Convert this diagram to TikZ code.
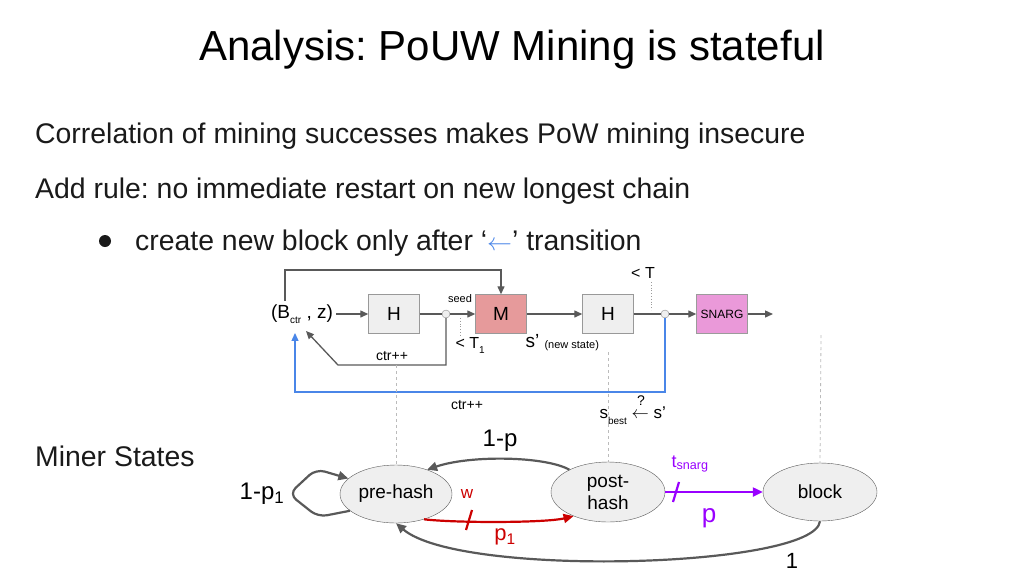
\documentclass[tikz,border=0pt]{standalone}
\usepackage{fontspec}
\setmainfont{Liberation Sans}
\usepackage{amsmath}
\usepackage{xcolor}
\usetikzlibrary{shapes,arrows,arrows.meta,positioning,calc}
\definecolor{lngray}{HTML}{595959}
\definecolor{boxfill}{HTML}{EFEFEF}
\definecolor{boxline}{HTML}{999999}
\definecolor{mfill}{HTML}{E69A9B}
\definecolor{snargfill}{HTML}{EA99D9}
\definecolor{blueln}{HTML}{4A86E8}
\definecolor{stred}{HTML}{CC0000}
\definecolor{stpurple}{HTML}{9900FF}
\definecolor{guidegray}{HTML}{BBBBBB}
\definecolor{bodytext}{HTML}{1A1A1A}
\frenchspacing

\begin{document}
\begin{tikzpicture}[x=1pt, y=-1pt,
    txt/.style={font=\fontsize{28.4}{34}\selectfont, anchor=base west, inner sep=0pt, text=bodytext},
    hbox/.style={rectangle, draw=boxline, fill=boxfill, minimum width=51pt, minimum height=39pt, font=\fontsize{19}{22}\selectfont},
    junc/.style={circle, draw=lngray!70, fill=boxfill, inner sep=0pt, minimum size=8pt},
    state/.style={ellipse, draw=lngray, fill=boxfill, inner sep=0pt, minimum width=112pt, minimum height=58pt, font=\fontsize{19}{22}\selectfont, align=center},
    small/.style={font=\fontsize{11}{13}\selectfont},
    mid/.style={font=\fontsize{16}{19}\selectfont},
    arrow/.style={-{Triangle[length=8pt,width=7pt]}, line width=1.3pt, draw=lngray},
    sarrow/.style={-{Triangle[length=10pt,width=9pt]}, line width=2.2pt, draw=lngray},
    guide/.style={dashed, draw=guidegray, line width=0.8pt}
]
\useasboundingbox (0,0) rectangle (1024,576);

% Title and text
\node[font=\fontsize{42}{48}\selectfont, anchor=base, inner sep=0pt] (title) at (512,60) {Analysis: PoUW Mining is stateful};
\node[txt] (corr) at (35,143) {Correlation of mining successes makes PoW mining insecure};
\node[txt] (rule) at (35,198) {Add rule: no immediate restart on new longest chain};
\fill[bodytext] (105,241) circle (6);
\node[txt] (only) at (135,250) {create new block only after ‘{\color{blueln}$\leftarrow$}’ transition};
\node[txt] (miner) at (35,466) {Miner States};

% Pipeline
\node[font=\fontsize{19}{22}\selectfont] (bz) at (302,314) {(B\raisebox{-5pt}{\fontsize{10}{12}\selectfont ctr} , z)};
\node[hbox] (h1) at (394,314) {H};
\node[junc] (c1) at (446,314) {};
\node[hbox, fill=mfill] (m) at (501,314) {M};
\node[hbox] (h2) at (608,314) {H};
\node[junc] (c2) at (665,314) {};
\node[hbox, fill=snargfill, draw=lngray!60, font=\fontsize{12}{14}\selectfont] (snarg) at (722,314) {SNARG};
\coordinate (out) at (773,314);

\draw[arrow] (bz.east) -- (h1.west);
\draw[line width=1.3pt, lngray] (h1.east) -- (c1.west);
\draw[arrow] (c1.east) -- (m.west);
\draw[arrow] (m.east) -- (h2.west);
\draw[line width=1.3pt, lngray] (h2.east) -- (c2.west);
\draw[arrow] (c2.east) -- (snarg.west);
\draw[arrow] (snarg.east) -- (out);

% loops back to the input
\coordinate (top) at (285,270);
\draw[arrow] (bz.north -| top) -- (top) -| (m.north);
\coordinate (c1low) at (446,365);
\coordinate (c1turn) at (338,365);
\draw[arrow] (c1.south) -- (c1low) -- (c1turn) -- ([xshift=4pt,yshift=-4pt]bz.south);
\coordinate (c2low) at (665,392);
\coordinate (bluein) at (295,392);
\draw[arrow, draw=blueln] (c2.south) -- (c2low) -- (bluein) -- ([xshift=-7pt,yshift=-6pt]bz.south);

% thresholds
\draw[dotted, lngray!60, line width=0.8pt] (460,318) -- (460,335);
\draw[dotted, lngray!60, line width=0.8pt] (651,282) -- (651,310);

% pipeline labels
\node[small] (seed) at (460,299) {seed};
\node[mid, anchor=west] (t1) at (452,345) {< T\raisebox{-5pt}{\fontsize{10}{12}\selectfont 1}};
\node[font=\fontsize{19}{22}\selectfont, anchor=west] (snew) at (522,341) {s’};
\node[small, anchor=west] (newst) at (541,346) {(new state)};
\node[font=\fontsize{14}{16}\selectfont] (ctra) at (392,356) {ctr++};
\node[font=\fontsize{14}{16}\selectfont] (ctrb) at (467,405) {ctr++};
\node[mid] (tt) at (643,273) {< T};
\node[font=\fontsize{17}{20}\selectfont, anchor=west] (sbest) at (596,416) {s\raisebox{-6pt}{\fontsize{10}{12}\selectfont best} $\leftarrow$ s’};
\node[font=\fontsize{14}{16}\selectfont, inner sep=1pt] (qm) at (641,401) {?};

% Miner states
\node[state] (pre) at (396,494) {pre-hash};
\node[state, minimum width=114pt, minimum height=60pt] (post) at (608,492) {post-\\hash};
\node[state, minimum width=114pt] (block) at (820,492) {block};

% guides
\draw[guide] (396,365) -- (pre.north);
\draw[guide] (608,352) -- (post.north);
\draw[guide] (821,335) -- (block.north);

% transitions
\draw[sarrow, rounded corners=9pt] (pre.200) -- (318,517) -- (289,494) -- (316,469) -- (pre.162);
\draw[sarrow] (post.150) .. controls (545,456) and (470,455) .. (pre.38);
\draw[sarrow, draw=stred] (pre.-42) .. controls (455,523) and (545,523) .. (post.-145);
\draw[line width=2.2pt, stred] (466,530) -- (472,510);
\draw[sarrow, draw=stpurple] (post.east) -- (block.west);
\draw[line width=2.2pt, stpurple] (673,502) -- (679,482);
\draw[sarrow] (block.south) .. controls (815,568) and (460,578) .. (pre.south);

% transition labels
\node[font=\fontsize{24}{28}\selectfont] (lself) at (262,494) {1-p\textsubscript{1}};
\node[font=\fontsize{24}{28}\selectfont] (lback) at (500,441) {1-p};
\node[font=\fontsize{17}{20}\selectfont, text=stred] (lw) at (467,494) {w};
\node[font=\fontsize{22}{26}\selectfont, text=stred] (lp1) at (505,537) {p\textsubscript{1}};
\node[font=\fontsize{18}{22}\selectfont, text=stpurple] (lts) at (690,464) {t\textsubscript{snarg}};
\node[font=\fontsize{26}{30}\selectfont, text=stpurple] (lp) at (709,518) {p};
\node[font=\fontsize{22}{26}\selectfont] (lone) at (792,561) {1};

\end{tikzpicture}
\end{document}
